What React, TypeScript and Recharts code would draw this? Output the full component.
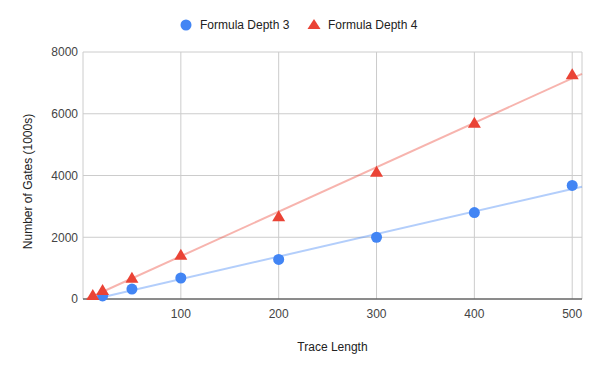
import {
  ScatterChart,
  Scatter,
  XAxis,
  YAxis,
  CartesianGrid,
} from 'recharts';

const depth3X = [20, 50, 100, 200, 300, 400, 500];
const depth3Y = [100, 320, 680, 1280, 2000, 2800, 3680];

const depth4X = [10, 20, 50, 100, 200, 300, 400, 500];
const depth4Y = [130, 290, 690, 1430, 2680, 4120, 5710, 7280];

const X_TICKS = [100, 200, 300, 400, 500];
const Y_TICKS = [0, 2000, 4000, 6000, 8000];
const X_DOMAIN: [number, number] = [0, 510];

const BLUE = '#4285F4';
const RED = '#EA4335';
const FONT = '"Liberation Sans", Arial, sans-serif';

const toPoints = (xs: number[], ys: number[]) =>
  xs.map((x, i) => ({ x, y: ys[i] }));

// least squares trendline across the x axis range, clipped at y = 0
function trendline(xs: number[], ys: number[]) {
  const n = xs.length;
  const mx = xs.reduce((a, b) => a + b, 0) / n;
  const my = ys.reduce((a, b) => a + b, 0) / n;
  let sxx = 0;
  let sxy = 0;
  xs.forEach((x, i) => {
    sxx += (x - mx) * (x - mx);
    sxy += (x - mx) * (ys[i] - my);
  });
  const m = sxy / sxx;
  const b = my - m * mx;
  const start = Math.max(X_DOMAIN[0], b < 0 ? -b / m : X_DOMAIN[0]);
  return [start, X_DOMAIN[1]].map((x) => ({ x, y: m * x + b }));
}

const Dot = (props: any) => (
  <circle cx={props.cx} cy={props.cy} r={5.5} fill={BLUE} />
);

const Tri = (props: any) => {
  const { cx, cy } = props;
  return (
    <polygon
      points={`${cx},${cy - 6} ${cx - 6.5},${cy + 5} ${cx + 6.5},${cy + 5}`}
      fill={RED}
    />
  );
};

const Empty = () => <g />;

const YLabel = (props: any) => {
  const { viewBox } = props;
  const x = viewBox.x + 28;
  const y = viewBox.y + viewBox.height / 2 + 6;
  return (
    <text
      x={x}
      y={y}
      transform={`rotate(-90, ${x}, ${y})`}
      textAnchor="middle"
      dominantBaseline="central"
      fontSize={12}
      fontFamily={FONT}
      fill="#222"
    >
      Number of Gates (1000s)
    </text>
  );
};

export default function App() {
  return (
    <div
      style={{
        position: 'absolute',
        left: 0,
        top: 0,
        width: 600,
        height: 371,
        background: '#fff',
      }}
    >
      <svg
        width={600}
        height={40}
        style={{ position: 'absolute', left: 0, top: 0 }}
        fontFamily={FONT}
        fontSize={12}
      >
        <circle cx={186} cy={25} r={5.5} fill={BLUE} />
        <text x={200} y={29} fill="#222">
          Formula Depth 3
        </text>
        <polygon points="314,19 307.5,29 320.5,29" fill={RED} />
        <text x={328} y={29} fill="#222">
          Formula Depth 4
        </text>
      </svg>

      <ScatterChart
        width={600}
        height={371}
        margin={{ top: 52, right: 18, bottom: 0, left: 0 }}
        style={{ fontFamily: FONT }}
      >
        <CartesianGrid stroke="#ccc" />
        <XAxis
          type="number"
          dataKey="x"
          domain={X_DOMAIN}
          ticks={X_TICKS}
          height={72}
          tickLine={false}
          tickSize={0}
          tickMargin={10}
          axisLine={{ stroke: '#333' }}
          tick={{ fill: '#444', fontSize: 12 }}
          label={{
            value: 'Trace Length',
            position: 'insideBottom',
            offset: 20,
            fill: '#222',
            fontSize: 12,
          }}
        />
        <YAxis
          type="number"
          dataKey="y"
          domain={[0, 8000]}
          ticks={Y_TICKS}
          width={83}
          axisLine={false}
          tickLine={false}
          tickSize={0}
          tickMargin={5}
          tick={{ fill: '#444', fontSize: 12 }}
          label={<YLabel />}
        />

        <Scatter
          data={trendline(depth3X, depth3Y)}
          line={{ stroke: BLUE, strokeWidth: 2, strokeOpacity: 0.4 }}
          shape={Empty}
          legendType="none"
          isAnimationActive={false}
        />
        <Scatter
          data={trendline(depth4X, depth4Y)}
          line={{ stroke: RED, strokeWidth: 2, strokeOpacity: 0.4 }}
          shape={Empty}
          legendType="none"
          isAnimationActive={false}
        />
        <Scatter
          name="Formula Depth 3"
          data={toPoints(depth3X, depth3Y)}
          shape={Dot}
          isAnimationActive={false}
        />
        <Scatter
          name="Formula Depth 4"
          data={toPoints(depth4X, depth4Y)}
          shape={Tri}
          isAnimationActive={false}
        />
      </ScatterChart>
    </div>
  );
}
